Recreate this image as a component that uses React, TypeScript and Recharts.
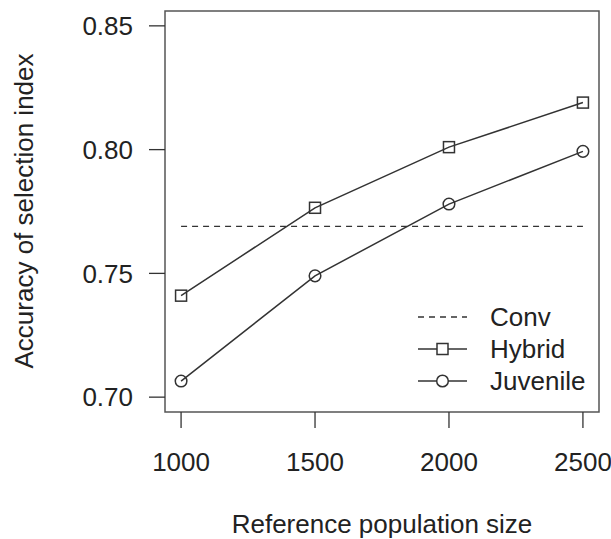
import React from "react";
import { LineChart, Line, XAxis, YAxis, ReferenceArea, Legend, Label } from "recharts";

// values
const sizes = [1000, 1500, 2000, 2500];
const conv = [0.769, 0.769, 0.769, 0.769];
const hybrid = [0.741, 0.7765, 0.801, 0.819];
const juvenile = [0.7065, 0.749, 0.778, 0.7993];
const xTicks = [1000, 1500, 2000, 2500];
const yTicks = [0.7, 0.75, 0.8, 0.85];
const seriesNames = ["Conv", "Hybrid", "Juvenile"];

const data = sizes.map((size, i) => ({
  size,
  Conv: conv[i],
  Hybrid: hybrid[i],
  Juvenile: juvenile[i],
}));

const FONT = "'Liberation Sans', Arial, Helvetica, sans-serif";
const INK = "#222";
const LINE = "#333";
const FS = 26;

const Square = (props: any) => {
  const { cx, cy, key } = props;
  return <rect key={key} x={cx - 5.5} y={cy - 5.5} width={11} height={11} fill="none" stroke={LINE} strokeWidth={1.5} />;
};

const Circle = (props: any) => {
  const { cx, cy, key } = props;
  return <circle key={key} cx={cx} cy={cy} r={5.8} fill="none" stroke={LINE} strokeWidth={1.5} />;
};

const LegendBox = () => (
  <svg width={200} height={100} style={{ display: "block" }}>
    {seriesNames.map((name, i) => {
      const y = 17 + i * 32;
      return (
        <g key={name}>
          <line
            x1={8}
            x2={57}
            y1={y}
            y2={y}
            stroke={LINE}
            strokeWidth={1.3}
            strokeDasharray={i === 0 ? "6 5" : undefined}
          />
          {i === 1 && <rect x={27} y={y - 5.5} width={11} height={11} fill="white" stroke={LINE} strokeWidth={1.5} />}
          {i === 2 && <circle cx={32.5} cy={y} r={5.8} fill="white" stroke={LINE} strokeWidth={1.5} />}
          <text x={80} y={y + 9} fontSize={FS} fontFamily={FONT} fill={INK}>
            {name}
          </text>
        </g>
      );
    })}
  </svg>
);

export default function App() {
  return (
    <div style={{ position: "absolute", left: 0, top: 0, width: 611, height: 539, background: "#fff" }}>
      <LineChart width={611} height={539} data={data} margin={{ top: 11, right: 12, bottom: 0, left: 0 }}>
        <XAxis
          dataKey="size"
          type="number"
          domain={[940, 2560]}
          ticks={xTicks}
          allowDataOverflow
          axisLine={false}
          tickLine={{ stroke: LINE, strokeWidth: 1.3 }}
          tickSize={16}
          tickMargin={25}
          height={127}
          tick={{ fontSize: FS, fontFamily: FONT, fill: INK }}
        >
          <Label
            content={() => (
              <text x={382} y={533} textAnchor="middle" fontSize={FS} fontFamily={FONT} fill={INK}>
                Reference population size
              </text>
            )}
          />
        </XAxis>
        <YAxis
          type="number"
          domain={[0.694, 0.856]}
          ticks={yTicks}
          allowDataOverflow
          axisLine={false}
          tickLine={{ stroke: LINE, strokeWidth: 1.3 }}
          tickSize={16}
          tickMargin={16}
          width={165}
          tickFormatter={(v: number) => v.toFixed(2)}
          tick={{ fontSize: FS, fontFamily: FONT, fill: INK }}
        >
          <Label
            content={() => (
              <text
                x={33}
                y={211}
                transform="rotate(-90, 33, 211)"
                textAnchor="middle"
                fontSize={FS}
                fontFamily={FONT}
                fill={INK}
              >
                Accuracy of selection index
              </text>
            )}
          />
        </YAxis>
        <ReferenceArea x1={940} x2={2560} y1={0.694} y2={0.856} fill="none" stroke="#555" strokeWidth={1.5} />
        <Line
          dataKey="Conv"
          stroke={LINE}
          strokeWidth={1.3}
          strokeDasharray="6 5"
          dot={false}
          activeDot={false}
          isAnimationActive={false}
        />
        <Line dataKey="Hybrid" stroke={LINE} strokeWidth={1.5} dot={Square} activeDot={false} isAnimationActive={false} />
        <Line dataKey="Juvenile" stroke={LINE} strokeWidth={1.5} dot={Circle} activeDot={false} isAnimationActive={false} />
        <Legend
          layout="vertical"
          align="center"
          verticalAlign="middle"
          content={() => <LegendBox />}
          wrapperStyle={{ position: "absolute", left: 410, top: 300, width: 200, height: 100 }}
        />
      </LineChart>
    </div>
  );
}
